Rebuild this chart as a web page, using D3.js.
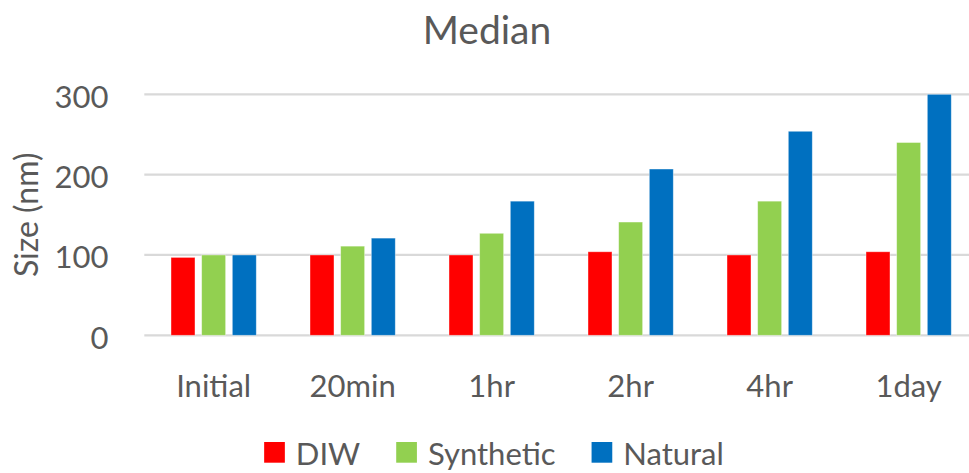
<!DOCTYPE html>
<html>
<head>
<meta charset="utf-8">
<script src="https://cdn.jsdelivr.net/npm/d3@7"></script>
<style>
  html, body { margin: 0; padding: 0; background: #fff; }
  svg { display: block; font-family: Lato, "Open Sans", sans-serif; }
</style>
</head>
<body>
<svg id="chart" width="969" height="473"></svg>
<script>
// Time points and median particle size (nm) per water type
const categories = ["Initial", "20min", "1hr", "2hr", "4hr", "1day"];
const seriesNames = ["DIW", "Synthetic", "Natural"];
const diw = [97, 100, 100, 104, 100, 104];
const synthetic = [100, 111, 127, 141, 167, 240];
const natural = [100, 121, 167, 207, 254, 300];
const yTicks = [0, 100, 200, 300];
const colors = ["#ff0000", "#92d050", "#0070c0"];

const seriesValues = [diw, synthetic, natural];
const textColor = "#595959";

const svg = d3.select("#chart");

const margin = { left: 144.3, right: -9.3, top: 94.3, bottom: 137.7 };
const W = 969, H = 473;

const x0 = d3.scaleBand()
  .domain(categories)
  .range([margin.left, W - margin.right])
  .paddingInner(0)
  .paddingOuter(0);

const groupOffset = 26.7, groupWidth = 85.3;
const x1 = d3.scaleBand()
  .domain(seriesNames)
  .range([groupOffset, groupOffset + groupWidth])
  .paddingInner(0.217)
  .paddingOuter(0);

const y = d3.scaleLinear()
  .domain([0, 300])
  .range([H - margin.bottom, margin.top]);

// Gridlines
svg.append("g")
  .selectAll("line")
  .data(yTicks)
  .join("line")
  .attr("x1", margin.left)
  .attr("x2", W)
  .attr("y1", d => y(d))
  .attr("y2", d => y(d))
  .attr("stroke", "#d9d9d9")
  .attr("stroke-width", 2.3);

// Y axis labels (axis line hidden)
const yAxis = svg.append("g")
  .attr("transform", `translate(108.5,0)`)
  .call(d3.axisLeft(y).tickValues(yTicks).tickSize(0).tickPadding(0));
yAxis.select(".domain").remove();
yAxis.selectAll("text")
  .attr("fill", textColor)
  .attr("font-size", 31)
  .attr("font-family", "Lato, sans-serif")
  .attr("dy", "0.42em");

// Bars
const rows = categories.map((c, i) => ({
  cat: c,
  vals: seriesNames.map((s, j) => ({ series: s, value: seriesValues[j][i], color: colors[j] }))
}));

svg.append("g")
  .selectAll("g")
  .data(rows)
  .join("g")
  .attr("transform", d => `translate(${x0(d.cat)},0)`)
  .selectAll("rect")
  .data(d => d.vals)
  .join("rect")
  .attr("x", d => x1(d.series))
  .attr("width", x1.bandwidth())
  .attr("y", d => y(d.value))
  .attr("height", d => y(0) - y(d.value))
  .attr("fill", d => d.color)
  .attr("stroke", "#ffffff")
  .attr("stroke-opacity", 0.5)
  .attr("stroke-width", 0.8);

// X axis labels
const xAxis = svg.append("g")
  .attr("transform", `translate(0,${y(0)})`)
  .call(d3.axisBottom(x0).tickSize(0).tickPadding(0));
xAxis.select(".domain").remove();
xAxis.selectAll("text")
  .attr("fill", textColor)
  .attr("font-size", 31)
  .attr("font-family", "Lato, sans-serif")
  .attr("dy", null)
  .attr("y", 62);
xAxis.selectAll(".tick").attr("transform", d => `translate(${x0(d) + groupOffset + groupWidth / 2},0)`);

// Title
svg.append("text")
  .attr("x", 487)
  .attr("y", 43.5)
  .attr("text-anchor", "middle")
  .attr("fill", textColor)
  .attr("font-size", 39)
  .text("Median");

// Y axis title
svg.append("text")
  .attr("transform", `translate(38,${(y(0) + y(300)) / 2}) rotate(-90)`)
  .attr("text-anchor", "middle")
  .attr("fill", textColor)
  .attr("font-size", 32)
  .text("Size (nm)");

// Legend
const legend = svg.append("g");
const sq = 20.7, gapText = 11, gapItem = 36;
const items = legend.selectAll("g")
  .data(seriesNames)
  .join("g");
items.append("rect")
  .attr("width", sq)
  .attr("height", sq)
  .attr("y", 442)
  .attr("fill", (d, i) => colors[i]);
items.append("text")
  .attr("x", sq + gapText)
  .attr("y", 465)
  .attr("fill", textColor)
  .attr("font-size", 31)
  .text(d => d);
let cursor = 0;
const widths = [];
items.each(function () {
  const w = sq + gapText + d3.select(this).select("text").node().getComputedTextLength();
  widths.push(w);
});
const total = d3.sum(widths) + gapItem * (widths.length - 1);
cursor = 494 - total / 2;
items.attr("transform", (d, i) => {
  const t = `translate(${cursor},0)`;
  cursor += widths[i] + gapItem;
  return t;
});
</script>
</body>
</html>
